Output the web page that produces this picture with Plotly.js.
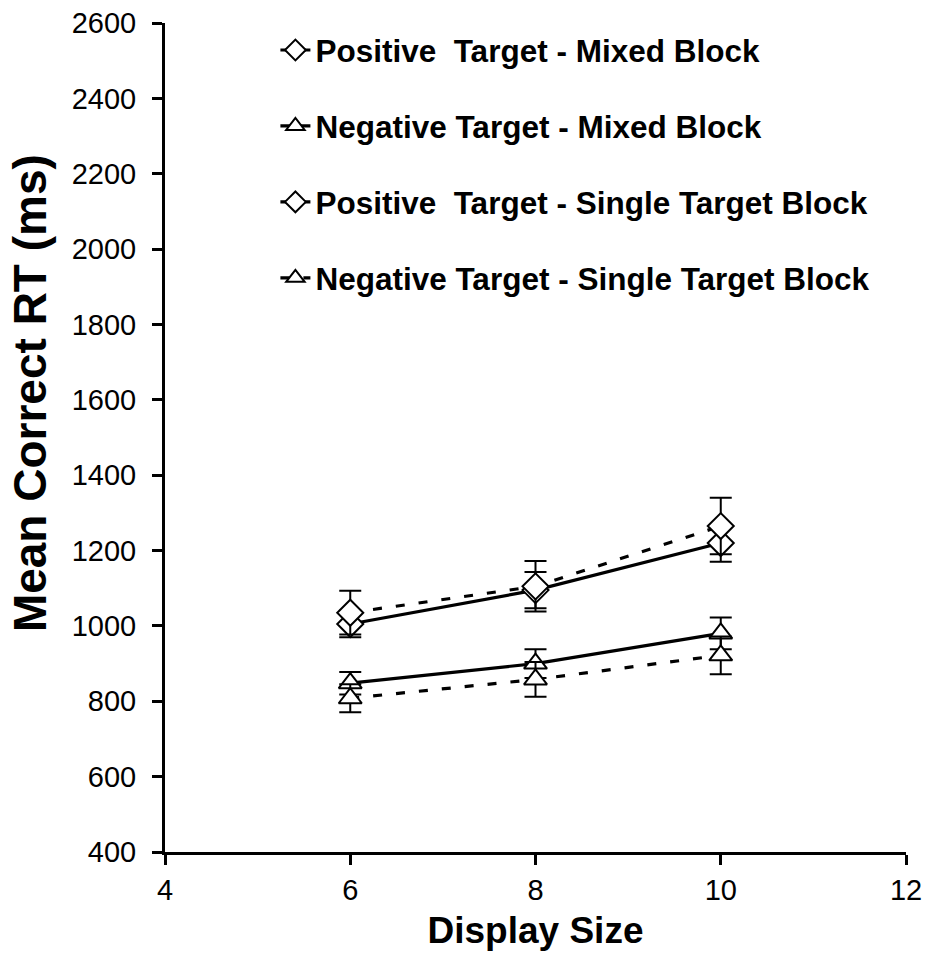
<!DOCTYPE html>
<html>
<head>
<meta charset="utf-8">
<script src="https://cdn.plot.ly/plotly-3.0.1.min.js"></script>
<style>html,body{margin:0;padding:0;background:#fff;}#chart{width:928px;height:960px;}</style>
</head>
<body>
<div id="chart"></div>
<script>
const displaySize = [6, 8, 10];

const posMixed = [1005, 1095, 1220];
const posMixedErr = [35, 48, 50];

const negMixed = [848, 900, 980];
const negMixedErr = [30, 38, 42];

const posSingle = [1035, 1105, 1265];
const posSingleErr = [58, 67, 75];

const negSingle = [808, 858, 922];
const negSingleErr = [37, 46, 50];

const seriesNames = [
  'Positive  Target - Mixed Block',
  'Negative Target - Mixed Block',
  'Positive  Target - Single Target Block',
  'Negative Target - Single Target Block'
];

const xTitle = 'Display Size';
const yTitle = 'Mean Correct RT (ms)';

const FONT = 'Arial, "Liberation Sans", sans-serif';

function mk(name, y, err, symbol, dash, group) {
  return {
    type: 'scatter', mode: 'lines+markers', name: name,
    x: displaySize, y: y, legendgroup: group,
    line: {color: '#000', width: 3.2, dash: dash},
    marker: {symbol: symbol, size: 20, color: '#fff', line: {color: '#000', width: 2}},
    error_y: {type: 'data', array: err, visible: true, color: '#000', thickness: 2, width: 11}
  };
}

const traces = [
  mk(seriesNames[0], posMixed, posMixedErr, 'diamond', 'solid', 'a'),
  mk(seriesNames[1], negMixed, negMixedErr, 'triangle-up', 'solid', 'b'),
  mk(seriesNames[2], posSingle, posSingleErr, 'diamond', '9px,14px', 'c'),
  mk(seriesNames[3], negSingle, negSingleErr, 'triangle-up', '9px,14px', 'd')
];

const layout = {
  width: 928, height: 960,
  margin: {l: 165, r: 22, t: 23, b: 108},
  paper_bgcolor: '#fff', plot_bgcolor: '#fff',
  font: {family: FONT, color: '#000'},
  showlegend: true,
  legend: {
    x: 0.149, y: 1.0, xanchor: 'left', yanchor: 'top',
    font: {family: FONT, size: 31.5, weight: 'bold', color: '#000'},
    traceorder: 'grouped', tracegroupgap: 32,
    bgcolor: 'rgba(0,0,0,0)', borderwidth: 0
  },
  xaxis: {
    range: [4, 12], dtick: 2, tick0: 4,
    showgrid: false, zeroline: false,
    showline: true, linecolor: '#000', linewidth: 3,
    ticks: 'outside', ticklen: 10, tickwidth: 3, tickcolor: '#000',
    tickfont: {family: FONT, size: 29, color: '#000'},
    title: {text: xTitle, font: {family: FONT, size: 37, weight: 'bold', color: '#000'}, standoff: 13}
  },
  yaxis: {
    range: [400, 2600], dtick: 200, tick0: 400,
    showgrid: false, zeroline: false,
    showline: true, linecolor: '#000', linewidth: 3,
    ticks: 'outside', ticklen: 10, tickwidth: 3, tickcolor: '#000',
    tickfont: {family: FONT, size: 29, color: '#000'},
    ticklabelstandoff: 10
  },
  annotations: [{
    text: yTitle, xref: 'paper', yref: 'paper',
    x: -0.182, y: 0.5537, xanchor: 'center', yanchor: 'middle',
    textangle: -90, showarrow: false,
    font: {family: FONT, size: 46, weight: 'bold', color: '#000'}
  }]
};

Plotly.newPlot('chart', traces, layout, {displayModeBar: false, staticPlot: true});
</script>
</body>
</html>
